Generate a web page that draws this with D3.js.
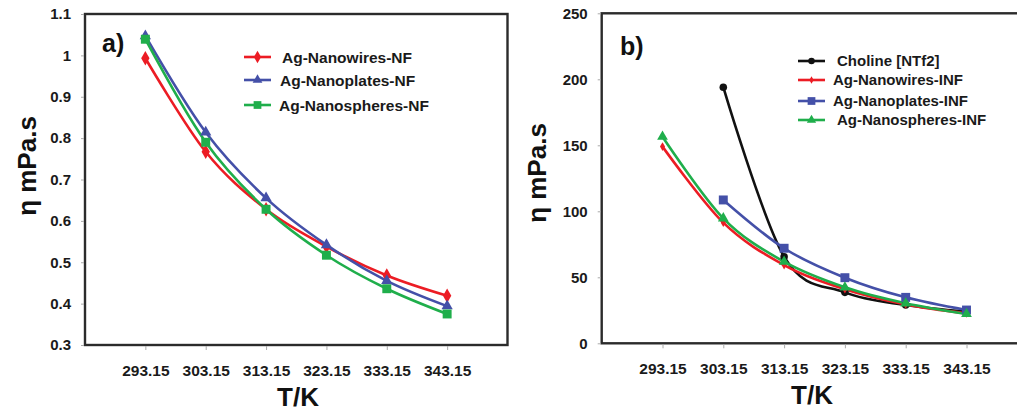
<!DOCTYPE html>
<html>
<head>
<meta charset="utf-8">
<script src="https://cdn.jsdelivr.net/npm/d3@7"></script>
<style>
  html, body { margin: 0; padding: 0; background: #fff; }
  svg { display: block; font-family: "Liberation Sans", Arial, sans-serif; }
</style>
</head>
<body>
<svg id="chart" width="1017" height="414"></svg>
<script>
// Temperatures (K) shared by both panels
const temps = ["293.15", "303.15", "313.15", "323.15", "333.15", "343.15"];

// Panel a: viscosity of nanofluids (mPa.s)
const nanowiresNF   = [0.993, 0.767, 0.628, 0.538, 0.468, 0.419];
const nanoplatesNF  = [1.047, 0.814, 0.655, 0.542, 0.455, 0.394];
const nanospheresNF = [1.039, 0.790, 0.628, 0.517, 0.436, 0.375];
const ticksA = [0.3, 0.4, 0.5, 0.6, 0.7, 0.8, 0.9, 1, 1.1];

// Panel b: viscosity of the ionic liquid and ionanofluids (mPa.s)
const cholineNTf2    = [null, 194, 65.6, 38.6, 29.0, 24.0];
const nanowiresINF   = [149, 91.4, 59.3, 41.0, 29.5, 22.7];
const nanoplatesINF  = [null, 108.6, 72.0, 49.7, 34.8, 25.2];
const nanospheresINF = [156.5, 94.7, 61.8, 42.4, 30.3, 22.2];
const ticksB = [0, 50, 100, 150, 200, 250];

const RED = "#ec1c24", BLUE = "#4450a8", GREEN = "#1fae4b", BLACK = "#111";

const svg = d3.select("#chart");

const symbolFor = {
  diamond: d3.symbolDiamond,
  triangle: d3.symbolTriangle,
  square: d3.symbolSquare,
  circle: d3.symbolCircle
};

function drawPanel(cfg) {
  const { left, right, top, bottom, yDomain, ticks, series, tag, tagPos,
          legend, ylabelPos, xlabelPos, tickFmt } = cfg;

  const g = svg.append("g");

  const x = d3.scalePoint().domain(temps).range([left, right]).padding(1);
  const y = d3.scaleLinear().domain(yDomain).range([bottom, top]);

  // frame
  g.append("rect")
    .attr("x", left).attr("y", top)
    .attr("width", right - left).attr("height", bottom - top)
    .attr("fill", "none").attr("stroke", "#2b2b2b").attr("stroke-width", 2.4);

  // y axis labels and small ticks
  const yAxis = d3.axisLeft(y).tickValues(ticks).tickSize(3).tickPadding(10).tickFormat(tickFmt);
  const ya = g.append("g").attr("transform", `translate(${left - 1},0)`).call(yAxis);
  ya.select(".domain").remove();
  ya.selectAll(".tick line").attr("stroke", "#aaa");
  ya.selectAll(".tick text")
    .attr("font-size", 15).attr("font-weight", "bold").attr("fill", "#1a1a1a")
    .attr("font-family", "Liberation Sans, Arial, sans-serif");

  // x axis labels and small ticks
  const xAxis = d3.axisBottom(x).tickSize(4).tickPadding(15);
  const xa = g.append("g").attr("transform", `translate(0,${bottom + 1})`).call(xAxis);
  xa.select(".domain").remove();
  xa.selectAll(".tick line").attr("stroke", "#aaa");
  xa.selectAll(".tick text")
    .attr("font-size", 15.5).attr("font-weight", "bold").attr("fill", "#1a1a1a")
    .attr("font-family", "Liberation Sans, Arial, sans-serif");

  // smoothed series lines with markers
  const line = d3.line()
    .defined(d => d.v != null)
    .x(d => x(d.t)).y(d => y(d.v))
    .curve(d3.curveCardinal.tension(0));

  series.forEach(s => {
    const pts = temps.map((t, i) => ({ t, v: s.values[i] }));
    g.append("path").datum(pts)
      .attr("d", line)
      .attr("fill", "none").attr("stroke", s.color).attr("stroke-width", 2.6)
      .attr("stroke-linejoin", "round");
  });
  series.forEach(s => {
    const pts = temps.map((t, i) => ({ t, v: s.values[i] })).filter(d => d.v != null);
    g.selectAll(null).data(pts).enter().append("path")
      .attr("transform", d => `translate(${x(d.t)},${y(d.v)})`)
      .attr("d", d3.symbol().type(symbolFor[s.marker]).size(s.size))
      .attr("fill", s.color);
  });

  // panel tag
  g.append("text").attr("x", tagPos[0]).attr("y", tagPos[1])
    .attr("font-size", 25).attr("font-weight", "bold").attr("fill", "#111")
    .text(tag);

  // legend
  const lg = g.append("g");
  series.forEach((s, i) => {
    const yy = legend.rows[i];
    lg.append("line")
      .attr("x1", legend.x1).attr("x2", legend.x2).attr("y1", yy).attr("y2", yy)
      .attr("stroke", s.color).attr("stroke-width", 2.6);
    lg.append("path")
      .attr("transform", `translate(${(legend.x1 + legend.x2) / 2},${yy})`)
      .attr("d", d3.symbol().type(symbolFor[s.marker]).size(s.size * 0.75))
      .attr("fill", s.color);
    lg.append("text")
      .attr("x", legend.textX[i]).attr("y", yy).attr("dy", "0.36em")
      .attr("font-size", legend.fontSize).attr("font-weight", "bold").attr("fill", "#1a1a1a")
      .text(s.name);
  });

  // axis titles
  g.append("text")
    .attr("transform", `translate(${ylabelPos[0]},${ylabelPos[1]}) rotate(-90)`)
    .attr("text-anchor", "middle").attr("dy", "0.35em")
    .attr("font-size", 26).attr("font-weight", "bold").attr("fill", "#111")
    .text("η mPa.s");
  g.append("text")
    .attr("x", xlabelPos[0]).attr("y", xlabelPos[1])
    .attr("text-anchor", "middle")
    .attr("font-size", 26).attr("font-weight", "bold").attr("fill", "#111")
    .text("T/K");
}

drawPanel({
  left: 85, right: 507.5, top: 14, bottom: 345,
  yDomain: [0.3, 1.1], ticks: ticksA,
  tickFmt: d => (d === 1 ? "1" : d3.format(".1f")(d)),
  series: [
    { name: "Ag-Nanowires-NF",   values: nanowiresNF,   color: RED,   marker: "diamond",  size: 60 },
    { name: "Ag-Nanoplates-NF",  values: nanoplatesNF,  color: BLUE,  marker: "triangle", size: 55 },
    { name: "Ag-Nanospheres-NF", values: nanospheresNF, color: GREEN, marker: "square",   size: 80 }
  ],
  tag: "a)", tagPos: [102, 52],
  legend: { x1: 244, x2: 271, rows: [57, 80, 105], textX: [282, 280, 279], fontSize: 15.5 },
  ylabelPos: [27, 166],
  xlabelPos: [298, 406]
});

drawPanel({
  left: 601.7, right: 1027.3, top: 13.3, bottom: 343.3,
  yDomain: [0, 250], ticks: ticksB,
  tickFmt: d3.format("d"),
  series: [
    { name: "Choline [NTf2]",       values: cholineNTf2,    color: BLACK, marker: "circle",   size: 45 },
    { name: "Ag-Nanowires-INF",     values: nanowiresINF,   color: RED,   marker: "diamond",  size: 22 },
    { name: "Ag-Nanoplates-INF",    values: nanoplatesINF,  color: BLUE,  marker: "square",   size: 80 },
    { name: "Ag-Nanospheres-INF",   values: nanospheresINF, color: GREEN, marker: "triangle", size: 50 }
  ],
  tag: "b)", tagPos: [620, 55],
  legend: { x1: 798, x2: 825, rows: [61, 80, 101, 120], textX: [837, 833, 833, 837], fontSize: 15 },
  ylabelPos: [537, 173],
  xlabelPos: [812, 404]
});
</script>
</body>
</html>
